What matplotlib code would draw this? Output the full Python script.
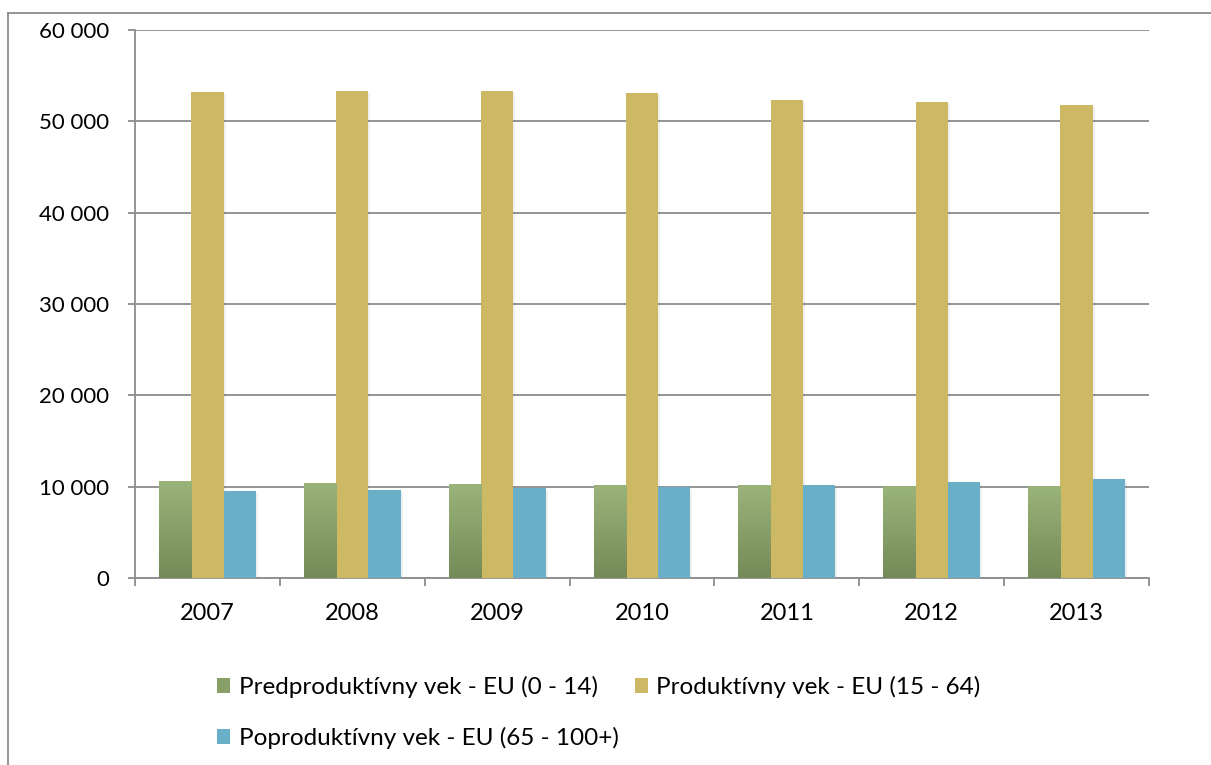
import numpy as np
import matplotlib
matplotlib.use("Agg")
import matplotlib.pyplot as plt
from matplotlib.colors import LinearSegmentedColormap
from matplotlib.patches import Patch
from matplotlib.lines import Line2D
from matplotlib.ticker import FuncFormatter

years = ["2007", "2008", "2009", "2010", "2011", "2012", "2013"]
pred = [10640, 10420, 10310, 10200, 10200, 10090, 10090]
prod = [53200, 53300, 53300, 53100, 52330, 52100, 51780]
poprod = [9550, 9660, 9800, 9990, 10200, 10500, 10830]
labels = ["Predproduktívny vek - EU (0 - 14)",
          "Produktívny vek - EU (15 - 64)",
          "Poproduktívny vek - EU (65 - 100+)"]

plt.rcParams['font.family'] = ['Lato', 'DejaVu Sans']

W, H = 1211, 765
fig = plt.figure(figsize=(W / 100, H / 100), dpi=100)
# plot area in pixels: left 135, right 1149, top 30, bottom 578
ax = fig.add_axes([135 / W, (H - 578) / H, (1149 - 135) / W, (578 - 30) / H])

x = np.arange(len(years))
w = 0.223
green_top = '#9BB47A'
green_bot = '#748A58'
yellow = '#CDB864'
blue = '#68AFC7'

green_cmap = LinearSegmentedColormap.from_list('g', [green_bot, green_top])
grad = np.linspace(0, 1, 256).reshape(-1, 1)

# soft shadows
for off, vals in zip([-w, 0, w], [pred, prod, poprod]):
    ax.bar(x + off + 0.014, vals, w, bottom=-200, color='#000000', alpha=0.06, zorder=2, linewidth=0)

gbars = ax.bar(x - w, pred, w, color=green_top, zorder=3, linewidth=0)
for b in gbars:
    x0 = b.get_x()
    im = ax.imshow(grad, extent=[x0, x0 + b.get_width(), 0, b.get_height()],
                   origin='lower', aspect='auto', cmap=green_cmap, zorder=3.5)
    im.set_clip_path(b)
ax.bar(x, prod, w, color=yellow, zorder=3, linewidth=0)
ax.bar(x + w, poprod, w, color=blue, zorder=3, linewidth=0)

ax.set_xlim(-0.5, len(years) - 0.5)
ax.set_ylim(0, 60000)
ax.set_yticks(np.arange(0, 60001, 10000))
ax.yaxis.set_major_formatter(FuncFormatter(lambda v, p: f"{int(v):,}".replace(",", " ")))
ax.set_xticks(x)
ax.set_xticklabels(years)
ax.set_xticks(np.arange(-0.5, len(years), 1), minor=True)

ax.grid(axis='y', color='#8C8C8C', linewidth=1.3, zorder=1)
ax.set_axisbelow(True)
for s in ['top', 'right']:
    ax.spines[s].set_visible(False)
for s in ['left', 'bottom']:
    ax.spines[s].set_color('#8C8C8C')
    ax.spines[s].set_linewidth(1.3)

ax.tick_params(axis='y', length=5, color='#8C8C8C', width=1.3, labelsize=16, pad=13.5)
ax.tick_params(axis='x', which='major', length=0, labelsize=17, pad=18)
ax.tick_params(axis='x', which='minor', length=6, color='#8C8C8C', width=1.3)

handles = [Patch(facecolor='#88A068', label=labels[0]),
           Patch(facecolor=yellow, label=labels[1]),
           Patch(facecolor=blue, label=labels[2])]
fig.legend([handles[0], handles[2], handles[1]], [labels[0], labels[2], labels[1]],
           ncol=2, loc='upper left', bbox_to_anchor=(217 / W, (H - 676) / H),
           frameon=False, fontsize=17.5, handlelength=0.55, handleheight=0.55,
           handletextpad=0.35, columnspacing=0.65, labelspacing=1.2,
           borderpad=0, borderaxespad=0)

# outer chart border (left and top edges visible)
fig.add_artist(Line2D([8 / W, 8 / W], [0, (H - 13) / H], transform=fig.transFigure,
                      color='#8C8C8C', linewidth=1.3))
fig.add_artist(Line2D([8 / W, 1], [(H - 13) / H, (H - 13) / H], transform=fig.transFigure,
                      color='#8C8C8C', linewidth=1.3))

fig.savefig("out.png", dpi=100)
